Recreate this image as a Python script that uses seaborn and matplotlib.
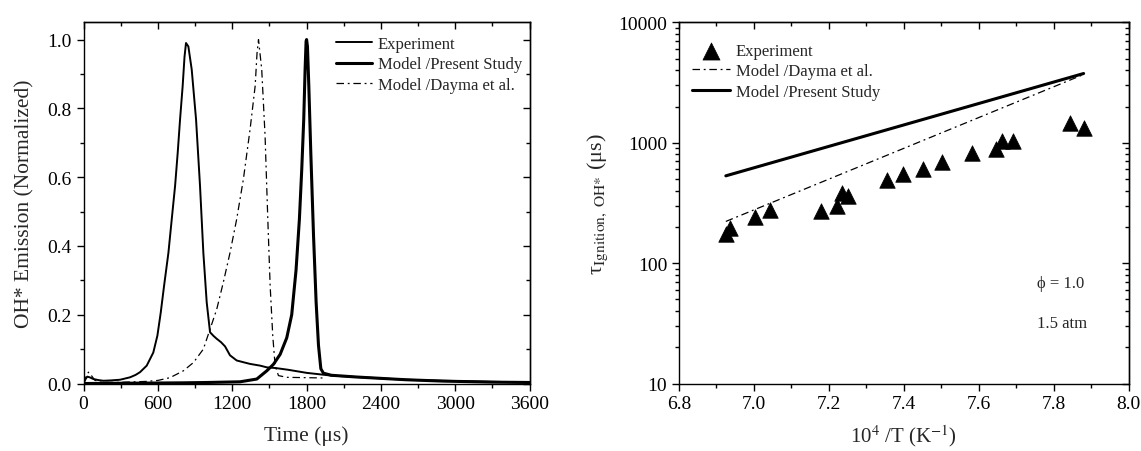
"""
OH* emission profiles and ignition delay times (two-panel figure)
"""

import numpy as np
import pandas as pd
import matplotlib
matplotlib.use('Agg')
import matplotlib.pyplot as plt
from matplotlib.ticker import MultipleLocator, LogLocator, NullFormatter
import seaborn as sns

sns.set_style('ticks')
plt.rcParams.update({
    'font.family': ['Liberation Serif', 'DejaVu Serif'],
    'mathtext.fontset': 'stix',
    'font.size': 14,
    'axes.linewidth': 1.0,
    'xtick.color': 'black',
    'ytick.color': 'black',
})

# ---------------- left panel: OH* emission traces ----------------
exp_t = [0, 15, 30, 50, 80, 120, 160, 220, 295, 375, 420, 456, 510, 563, 596, 623,
         650, 685, 712, 739, 760, 779, 800, 815, 827, 846, 873, 908, 940, 967, 994,
         1021, 1050, 1075, 1110, 1142, 1182, 1236, 1300, 1344, 1425, 1479, 1550,
         1650, 1800, 2000, 2200, 2400, 2600, 2900, 3300, 3600]
exp_v = [0.0, 0.012, 0.02, 0.018, 0.013, 0.01, 0.008, 0.009, 0.011, 0.018, 0.025,
         0.033, 0.052, 0.09, 0.139, 0.206, 0.284, 0.38, 0.478, 0.575, 0.671, 0.768,
         0.865, 0.95, 0.99, 0.98, 0.913, 0.768, 0.575, 0.38, 0.236, 0.149, 0.138,
         0.130, 0.12, 0.108, 0.082, 0.067, 0.061, 0.057, 0.052, 0.047, 0.045, 0.04,
         0.031, 0.023, 0.019, 0.015, 0.011, 0.008, 0.005, 0.003]

present_t = [0, 400, 800, 1000, 1263, 1398, 1479, 1533, 1587, 1640, 1680, 1715, 1742,
             1761, 1777, 1788, 1796, 1800, 1807, 1818, 1834, 1856, 1877, 1896, 1915,
             1936, 2000, 2200, 2400, 2600, 2900, 3300, 3600]
present_v = [0.0, 0.001, 0.002, 0.003, 0.005, 0.013, 0.037, 0.056, 0.085, 0.133, 0.2,
             0.33, 0.478, 0.623, 0.768, 0.913, 0.995, 1.0, 0.98, 0.865, 0.671, 0.43,
             0.236, 0.111, 0.043, 0.03, 0.024, 0.019, 0.015, 0.011, 0.007, 0.004, 0.003]

dayma_t = [0, 20, 40, 60, 90, 130, 250, 500, 600, 698, 806, 887, 967, 1021, 1075, 1128,
           1182, 1236, 1290, 1344, 1385, 1400, 1412, 1438, 1465, 1487, 1506, 1527,
           1546, 1573, 1640, 1800, 1950]
dayma_v = [0.0, 0.02, 0.033, 0.025, 0.01, 0.004, 0.003, 0.006, 0.009, 0.017, 0.037,
           0.061, 0.1, 0.158, 0.216, 0.294, 0.38, 0.478, 0.594, 0.739, 0.865, 0.96,
           1.0, 0.913, 0.72, 0.478, 0.284, 0.139, 0.052, 0.023, 0.018, 0.017, 0.016]

# ---------------- right panel: ignition delay ----------------
exp_invT = [6.925, 6.937, 7.003, 7.043, 7.179, 7.221, 7.236, 7.251, 7.354, 7.397,
            7.452, 7.502, 7.581, 7.646, 7.663, 7.692, 7.843, 7.880]
exp_tau = [175, 194, 240, 278, 269, 296, 381, 358, 492, 548, 611, 693, 818, 883,
           1035, 1040, 1449, 1333]

model_invT = [6.925, 7.880]
dayma_tau = [222, 3690]
present_tau = [531, 3760]

DASHDOT = (0, (6, 3, 1.5, 3))

fig = plt.figure(figsize=(11.41, 4.52), dpi=100)
ax1 = fig.add_axes([0.0732, 0.1493, 0.391, 0.799])
ax2 = fig.add_axes([0.5951, 0.1493, 0.394, 0.799])

# ========== LEFT ==========
sns.lineplot(data=pd.DataFrame({'t': exp_t, 'v': exp_v}), x='t', y='v', ax=ax1,
             color='black', linewidth=1.4, label='Experiment')
sns.lineplot(data=pd.DataFrame({'t': present_t, 'v': present_v}), x='t', y='v', ax=ax1,
             color='black', linewidth=2.2, label='Model /Present Study')
sns.lineplot(data=pd.DataFrame({'t': dayma_t, 'v': dayma_v}), x='t', y='v', ax=ax1,
             color='black', linewidth=0.9, linestyle=DASHDOT, label='Model /Dayma et al.')

ax1.set_xlim(0, 3600)
ax1.set_ylim(0, 1.05)
ax1.xaxis.set_major_locator(MultipleLocator(600))
ax1.xaxis.set_minor_locator(MultipleLocator(300))
ax1.yaxis.set_major_locator(MultipleLocator(0.2))
ax1.yaxis.set_minor_locator(MultipleLocator(0.1))
ax1.yaxis.set_major_formatter(matplotlib.ticker.FormatStrFormatter('%.1f'))
ax1.set_xlabel('Time (μs)', fontsize=15.5, labelpad=9)
ax1.set_ylabel('OH* Emission (Normalized)', fontsize=15.5, labelpad=9)
ax1.legend(loc='upper left', bbox_to_anchor=(0.566, 0.962), frameon=False, fontsize=12,
           borderpad=0, borderaxespad=0, handlelength=2.15, handletextpad=0.36,
           labelspacing=0.26)

# ========== RIGHT ==========
sns.scatterplot(x=exp_invT, y=exp_tau, ax=ax2, marker='^', s=125, color='black',
                edgecolor='black', linewidth=0.5, label='Experiment', zorder=3)
sns.lineplot(x=model_invT, y=dayma_tau, ax=ax2, color='black', linewidth=0.9,
             linestyle=DASHDOT, label='Model /Dayma et al.')
sns.lineplot(x=model_invT, y=present_tau, ax=ax2, color='black', linewidth=2.2,
             label='Model /Present Study')

ax2.set_yscale('log')
ax2.set_xlim(6.8, 8.0)
ax2.set_ylim(10, 10000)
ax2.xaxis.set_major_locator(MultipleLocator(0.2))
ax2.xaxis.set_minor_locator(MultipleLocator(0.1))
ax2.xaxis.set_major_formatter(matplotlib.ticker.FormatStrFormatter('%.1f'))
ax2.yaxis.set_major_locator(LogLocator(base=10, numticks=10))
ax2.yaxis.set_minor_locator(LogLocator(base=10, subs=np.arange(2, 10), numticks=10))
ax2.yaxis.set_minor_formatter(NullFormatter())
ax2.yaxis.set_major_formatter(matplotlib.ticker.FuncFormatter(lambda v, p: f'{v:.0f}'))
ax2.set_xlabel(r'10$^{4}$ /T (K$^{\mathrm{-1}}$)', fontsize=15, labelpad=7)
ax2.set_ylabel(r'τ$_{\mathrm{Ignition,\ OH}{*}}$ (μs)', fontsize=16, labelpad=6)
leg2 = ax2.legend(loc='upper left', bbox_to_anchor=(0.028, 0.943), frameon=False,
                  fontsize=12, borderpad=0, borderaxespad=0, handlelength=2.3,
                  handletextpad=0.36, labelspacing=0.26, markerscale=1.1)

ax2.text(7.755, 69, 'ϕ = 1.0', fontsize=12, va='center', ha='left')
ax2.text(7.756, 32, '1.5 atm', fontsize=12, va='center', ha='left')

# tick styling: outward on bottom/left, mirrored inward on top/right
for ax in (ax1, ax2):
    ax.tick_params(which='major', direction='out', length=5, width=1, labelsize=14)
    ax.tick_params(which='minor', direction='out', length=3, width=1)
    for sp in ax.spines.values():
        sp.set_visible(True)
        sp.set_color('black')

top1 = ax1.secondary_xaxis('top')
top1.xaxis.set_major_locator(MultipleLocator(600))
top1.xaxis.set_minor_locator(MultipleLocator(300))
right1 = ax1.secondary_yaxis('right')
right1.yaxis.set_major_locator(MultipleLocator(0.2))
right1.yaxis.set_minor_locator(MultipleLocator(0.1))

top2 = ax2.secondary_xaxis('top')
top2.xaxis.set_major_locator(MultipleLocator(0.2))
top2.xaxis.set_minor_locator(MultipleLocator(0.1))
right2 = ax2.secondary_yaxis('right')
right2.yaxis.set_major_locator(LogLocator(base=10, numticks=10))
right2.yaxis.set_minor_locator(LogLocator(base=10, subs=np.arange(2, 10), numticks=10))

for sec in (top1, right1, top2, right2):
    sec.tick_params(which='major', direction='in', length=5, width=1,
                    labeltop=False, labelright=False, labelbottom=False, labelleft=False)
    sec.tick_params(which='minor', direction='in', length=3, width=1)

plt.savefig('out.png', dpi=100, facecolor='white')
plt.close()
